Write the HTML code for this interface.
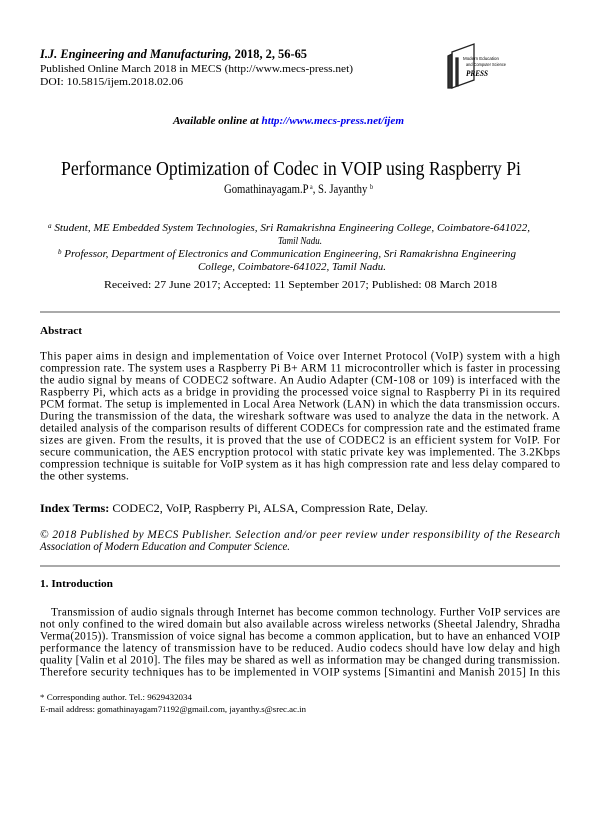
<!DOCTYPE html>
<html><head><meta charset="utf-8"><style>
html,body{margin:0;padding:0;background:#fff;}
svg{display:block;}
text{font-family:"Liberation Serif",serif;fill:#000;}
</style></head><body>
<svg width="601" height="820" viewBox="0 0 601 820" xmlns="http://www.w3.org/2000/svg">
<rect width="601" height="820" fill="#fff"/>
<text x="40" y="58" font-size="12.5" font-weight="bold" font-style="italic" textLength="267" lengthAdjust="spacingAndGlyphs">I.J. Engineering and Manufacturing, <tspan font-style="normal">2018, 2, 56-65</tspan></text>
<text x="40" y="72" font-size="11" textLength="313" lengthAdjust="spacingAndGlyphs">Published Online March 2018 in MECS (http://www.mecs-press.net)</text>
<text x="40" y="85" font-size="11" textLength="143" lengthAdjust="spacingAndGlyphs">DOI: 10.5815/ijem.2018.02.06</text>
<!-- logo -->
<g stroke="#222" fill="none" stroke-width="1.3">
<path d="M452 52 L474 44 L474 80 L452 88 Z" fill="#fff"/>
<path d="M448 56 L452 54 L452 88 L448 88 Z" fill="#333"/>
<path d="M456 58 L458 58 L458 86 L456 86 Z" fill="#333"/>
</g>
<text x="463" y="60" font-size="4.6" textLength="36" lengthAdjust="spacingAndGlyphs" style="font-family:'Liberation Sans',sans-serif">Modern Education</text>
<text x="466" y="66" font-size="4.6" textLength="40" lengthAdjust="spacingAndGlyphs" style="font-family:'Liberation Sans',sans-serif">and Computer Science</text>
<text x="466" y="76" font-size="8" font-weight="bold" font-style="italic" textLength="22" lengthAdjust="spacingAndGlyphs">PRESS</text>

<text x="173" y="124" font-size="11" font-weight="bold" font-style="italic" textLength="231" lengthAdjust="spacingAndGlyphs">Available online at <tspan style="fill:#0000ee">http://www.mecs-press.net/ijem</tspan></text>

<text x="61" y="175" font-size="19.5" textLength="460" lengthAdjust="spacingAndGlyphs">Performance Optimization of Codec in VOIP using Raspberry Pi</text>
<text x="224" y="193" font-size="12.5" textLength="149" lengthAdjust="spacingAndGlyphs">Gomathinayagam.P<tspan font-size="7" dy="-4"> a</tspan><tspan dy="4">, S. Jayanthy </tspan><tspan font-size="7" dy="-4">b</tspan></text>

<g font-size="11" font-style="italic">
<text x="48" y="231" textLength="482" lengthAdjust="spacingAndGlyphs"><tspan font-size="7" dy="-3">a</tspan><tspan dy="3"> Student, ME Embedded System Technologies, Sri Ramakrishna Engineering College, Coimbatore-641022,</tspan></text>
<text x="278" y="244" textLength="44" lengthAdjust="spacingAndGlyphs">Tamil Nadu.</text>
<text x="58" y="257" textLength="458" lengthAdjust="spacingAndGlyphs"><tspan font-size="7" dy="-3">b</tspan><tspan dy="3"> Professor, Department of Electronics and Communication Engineering, Sri Ramakrishna Engineering</tspan></text>
<text x="198" y="270">College, Coimbatore-641022, Tamil Nadu.</text>
</g>
<text x="104" y="288" font-size="11" textLength="393" lengthAdjust="spacingAndGlyphs">Received: 27 June 2017; Accepted: 11 September 2017; Published: 08 March 2018</text>

<rect x="40" y="311.5" width="520" height="1" fill="#555"/>
<text x="40" y="334" font-size="11" font-weight="bold" textLength="42" lengthAdjust="spacingAndGlyphs">Abstract</text>

<g font-size="11.3">
<text x="40" y="359.5" textLength="520" lengthAdjust="spacing">This paper aims in design and implementation of Voice over Internet Protocol (VoIP) system with a high</text>
<text x="40" y="371.5" textLength="520" lengthAdjust="spacing">compression rate. The system uses a Raspberry Pi B+ ARM 11 microcontroller which is faster in processing</text>
<text x="40" y="383.5" textLength="520" lengthAdjust="spacing">the audio signal by means of CODEC2 software. An Audio Adapter (CM-108 or 109) is interfaced with the</text>
<text x="40" y="395.5" textLength="520" lengthAdjust="spacing">Raspberry Pi, which acts as a bridge in providing the processed voice signal to Raspberry Pi in its required</text>
<text x="40" y="407.5" textLength="520" lengthAdjust="spacing">PCM format. The setup is implemented in Local Area Network (LAN) in which the data transmission occurs.</text>
<text x="40" y="419.5" textLength="520" lengthAdjust="spacing">During the transmission of the data, the wireshark software was used to analyze the data in the network. A</text>
<text x="40" y="431.5" textLength="520" lengthAdjust="spacing">detailed analysis of the comparison results of different CODECs for compression rate and the estimated frame</text>
<text x="40" y="443.5" textLength="520" lengthAdjust="spacing">sizes are given. From the results, it is proved that the use of CODEC2 is an efficient system for VoIP. For</text>
<text x="40" y="455.5" textLength="520" lengthAdjust="spacing">secure communication, the AES encryption protocol with static private key was implemented. The 3.2Kbps</text>
<text x="40" y="467.5" textLength="520" lengthAdjust="spacing">compression technique is suitable for VoIP system as it has high compression rate and less delay compared to</text>
<text x="40" y="479.5" textLength="89" lengthAdjust="spacingAndGlyphs">the other systems.</text>

<text x="40" y="512" textLength="388" lengthAdjust="spacingAndGlyphs"><tspan font-weight="bold">Index Terms:</tspan> CODEC2, VoIP, Raspberry Pi, ALSA, Compression Rate, Delay.</text>

<text x="40" y="538" font-style="italic" textLength="520" lengthAdjust="spacing">© 2018 Published by MECS Publisher. Selection and/or peer review under responsibility of the Research</text>
<text x="40" y="550" font-style="italic" textLength="250" lengthAdjust="spacingAndGlyphs">Association of Modern Education and Computer Science.</text>
</g>

<rect x="40" y="565.5" width="520" height="1" fill="#555"/>
<text x="40" y="587" font-size="11" font-weight="bold" textLength="73" lengthAdjust="spacingAndGlyphs">1. Introduction</text>

<g font-size="11.3">
<text x="51" y="615.5" textLength="509" lengthAdjust="spacing">Transmission of audio signals through Internet has become common technology. Further VoIP services are</text>
<text x="40" y="627.5" textLength="520" lengthAdjust="spacing">not only confined to the wired domain but also available across wireless networks (Sheetal Jalendry, Shradha</text>
<text x="40" y="639.5" textLength="520" lengthAdjust="spacing">Verma(2015)). Transmission of voice signal has become a common application, but to have an enhanced VOIP</text>
<text x="40" y="651.5" textLength="520" lengthAdjust="spacing">performance the latency of transmission have to be reduced. Audio codecs should have low delay and high</text>
<text x="40" y="663.5" textLength="520" lengthAdjust="spacing">quality [Valin et al 2010]. The files may be shared as well as information may be changed during transmission.</text>
<text x="40" y="675.5" textLength="520" lengthAdjust="spacing">Therefore security techniques has to be implemented in VOIP systems [Simantini and Manish 2015] In this</text>
</g>
<text x="40" y="700" font-size="8.5" textLength="152" lengthAdjust="spacingAndGlyphs">* Corresponding author. Tel.: 9629432034</text>
<text x="40" y="712" font-size="8.5" textLength="266" lengthAdjust="spacingAndGlyphs">E-mail address: gomathinayagam71192@gmail.com, jayanthy.s@srec.ac.in</text>
</svg>
</body></html>
